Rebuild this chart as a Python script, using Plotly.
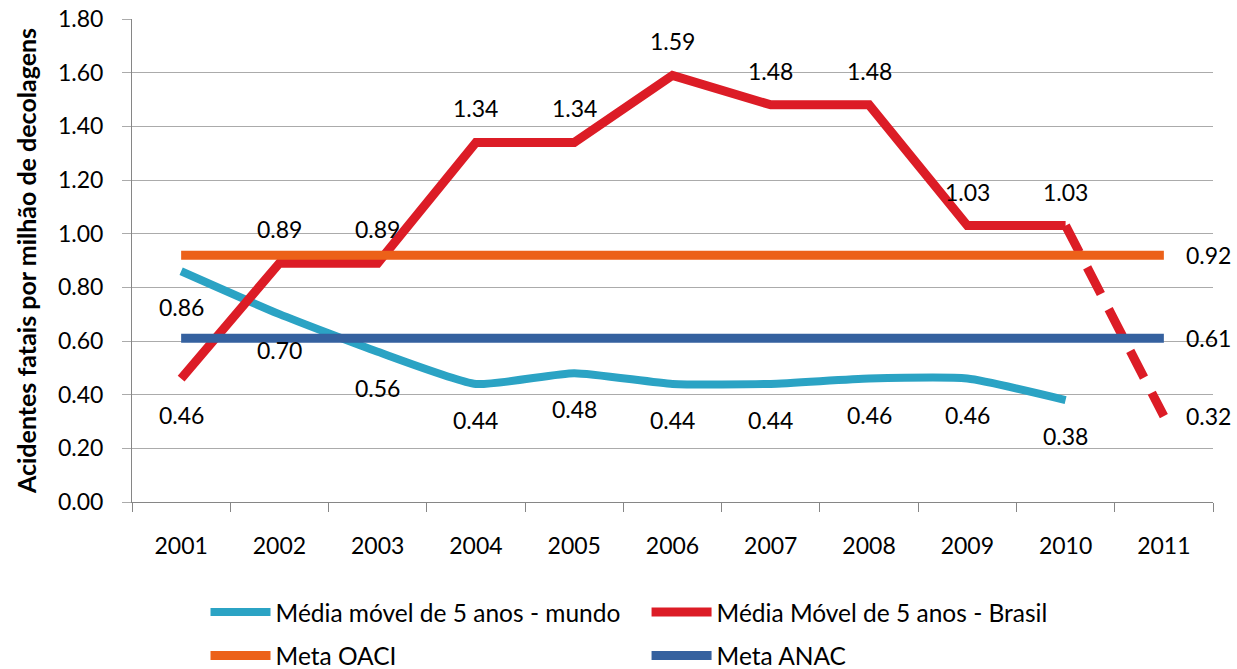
import plotly.graph_objects as go

years = ["2001", "2002", "2003", "2004", "2005", "2006", "2007", "2008", "2009", "2010", "2011"]
mundo = [0.86, 0.70, 0.56, 0.44, 0.48, 0.44, 0.44, 0.46, 0.46, 0.38]
brasil = [0.46, 0.89, 0.89, 1.34, 1.34, 1.59, 1.48, 1.48, 1.03, 1.03, 0.32]
meta_oaci = [0.92] * 11
meta_anac = [0.61] * 11

TEAL = "#2BA3C4"
RED = "#DC1C26"
ORANGE = "#EC6119"
BLUE = "#35619F"
FONT = "Lato"
FS = 23

idx = list(range(len(years)))

fig = go.Figure()
fig.add_trace(go.Scatter(x=years[:10], y=mundo, mode="lines", name="Média móvel de 5 anos - mundo",
                         line=dict(color=TEAL, width=8, shape="spline", smoothing=0.5), legend="legend"))
fig.add_trace(go.Scatter(x=years[:10], y=brasil[:10], mode="lines", name="Média Móvel de 5 anos - Brasil",
                         line=dict(color=RED, width=9), legend="legend2"))
fig.add_trace(go.Scatter(x=years[9:], y=brasil[9:], mode="lines", showlegend=False,
                         line=dict(color=RED, width=9, dash="30px,17px")))
fig.add_trace(go.Scatter(x=years, y=meta_oaci, mode="lines", name="Meta OACI",
                         line=dict(color=ORANGE, width=9), legend="legend3"))
fig.add_trace(go.Scatter(x=years, y=meta_anac, mode="lines", name="Meta ANAC",
                         line=dict(color=BLUE, width=9), legend="legend4"))

ann = []
for i, v in zip(idx[:10], mundo):
    ann.append(dict(x=i, y=v, text=f"{v:.2f}", yshift=-36))
for i, v in zip(idx, brasil):
    if i == 0:
        ann.append(dict(x=i, y=v, text=f"{v:.2f}", yshift=-36))
    elif i == 10:
        ann.append(dict(x=i, y=v, text=f"{v:.2f}", xshift=45))
    else:
        ann.append(dict(x=i, y=v, text=f"{v:.2f}", yshift=34))
ann.append(dict(x=idx[-1], y=meta_oaci[-1], text=f"{meta_oaci[-1]:.2f}", xshift=45))
ann.append(dict(x=idx[-1], y=meta_anac[-1], text=f"{meta_anac[-1]:.2f}", xshift=45))
for a in ann:
    a.update(xref="x", yref="y", showarrow=False, font=dict(family=FONT, size=FS, color="#000"))

def leg(x, y):
    return dict(x=x, y=y, xref="paper", yref="paper", xanchor="left", yanchor="middle",
                orientation="h", font=dict(family=FONT, size=24.5, color="#000"),
                bgcolor="rgba(0,0,0,0)", itemwidth=60)

fig.update_layout(
    width=1237, height=669,
    margin=dict(l=132, r=24, t=19, b=167, autoexpand=False),
    paper_bgcolor="white", plot_bgcolor="white",
    font=dict(family=FONT, size=FS, color="#000"),
    annotations=ann,
    legend=leg(0.068, -0.228),
    legend2=leg(0.476, -0.228),
    legend3=leg(0.068, -0.318),
    legend4=leg(0.476, -0.318),
    xaxis=dict(type="category", range=[-0.5, 10.5], tickson="boundaries", showgrid=False,
               showline=True, linecolor="#868686", linewidth=1, ticks="outside", ticklen=9,
               tickcolor="#868686", ticklabelstandoff=23,
               tickfont=dict(family=FONT, size=FS)),
    yaxis=dict(range=[0, 1.8], dtick=0.2, tickformat=".2f", showgrid=True, gridcolor="#ABABAB",
               gridwidth=1, showline=True, linecolor="#868686", linewidth=1, ticks="outside",
               ticklen=9, tickcolor="#ABABAB", ticklabelstandoff=14, zeroline=False,
               tickfont=dict(family=FONT, size=FS),
               title=dict(text="<b>Acidentes fatais por milhão de decolagens</b>",
                          font=dict(family=FONT, size=25), standoff=14)),
)

fig.write_html("out.html", config={"displayModeBar": False},
               post_script="document.body.style.margin='0px';")
